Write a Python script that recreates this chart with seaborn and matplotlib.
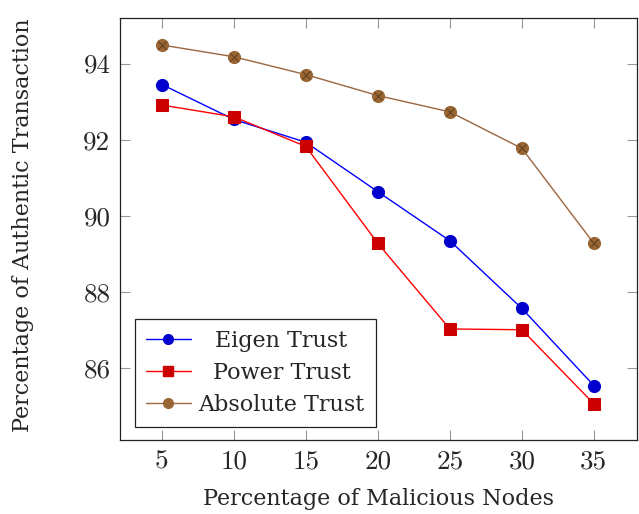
import matplotlib
matplotlib.use("Agg")
import matplotlib.pyplot as plt
import matplotlib.transforms as mtransforms
import seaborn as sns
import pandas as pd
from matplotlib.lines import Line2D

x_vals = [5, 10, 15, 20, 25, 30, 35]
eigen = [93.45, 92.53, 91.93, 90.63, 89.34, 87.56, 85.53]
power = [92.91, 92.60, 91.82, 89.27, 87.02, 87.00, 85.05]
absolute = [94.49, 94.18, 93.71, 93.16, 92.73, 91.77, 89.27]
series_names = ["Eigen Trust", "Power Trust", "Absolute Trust"]
y_ticks = [86, 88, 90, 92, 94]

df = pd.concat([
    pd.DataFrame({"x": x_vals, "y": eigen, "s": series_names[0]}),
    pd.DataFrame({"x": x_vals, "y": power, "s": series_names[1]}),
    pd.DataFrame({"x": x_vals, "y": absolute, "s": series_names[2]}),
])

sns.set_style("ticks")
plt.rcParams["font.family"] = ["DejaVu Serif"]

fig = plt.figure(figsize=(6.39, 5.14), dpi=100)
ax = fig.add_axes([0.188, 0.144, 0.809, 0.821])

line_colors = {"Eigen Trust": "#0000ff", "Power Trust": "#ff0000", "Absolute Trust": "#99663f"}
face_colors = {"Eigen Trust": "#0000cc", "Power Trust": "#cc0000", "Absolute Trust": "#996633"}
markers = {"Eigen Trust": "o", "Power Trust": "s", "Absolute Trust": "o"}
msize = {"Eigen Trust": 8.7, "Power Trust": 8.0, "Absolute Trust": 8.7}

for name in series_names:
    sub = df[df["s"] == name]
    sns.lineplot(data=sub, x="x", y="y", ax=ax, color=line_colors[name], lw=1.0,
                 marker=markers[name], markersize=msize[name],
                 markerfacecolor=face_colors[name], markeredgecolor=face_colors[name],
                 label=None, legend=False)
sub = df[df["s"] == "Absolute Trust"]
ax.plot(sub["x"], sub["y"], ls="none", marker="x", markersize=5.5, mec="#5c3d1f", mew=0.7)

ax.set_xlim(2.1, 38)
ax.set_ylim(84.1, 95.2)
ax.set_xticks(x_vals)
ax.set_yticks(y_ticks)
ax.set_xticklabels([str(v) for v in x_vals], fontfamily="cmr10", fontsize=19.5)
ax.set_yticklabels([str(v) for v in y_ticks], fontfamily="cmr10", fontsize=19.5)
ax.tick_params(direction="in", length=7, width=0.8, color="#999999", top=True, right=True, pad=7)
for sp in ax.spines.values():
    sp.set_color("#222222")
    sp.set_linewidth(0.9)
ax.set_xlabel("Percentage of Malicious Nodes", fontsize=16)
ax.set_ylabel("Percentage of Authentic Transaction", fontsize=16)
ax.xaxis.set_label_coords(0.5, -0.113)
ax.yaxis.set_label_coords(-0.166, 0.51)

handles = []
for name in series_names:
    handles.append(Line2D([], [], color=line_colors[name], lw=1.0, marker=markers[name],
                          markersize=7, markerfacecolor=face_colors[name],
                          markeredgecolor=face_colors[name]))
leg = ax.legend(handles, series_names, loc="lower left", bbox_to_anchor=(0.029, 0.031),
                fontsize=16, frameon=True, fancybox=False, edgecolor="#222222",
                handlelength=2.0, handletextpad=0.35, borderpad=0.5, labelspacing=0.45,
                borderaxespad=0)
leg.get_frame().set_linewidth(0.9)
leg.get_frame().set_alpha(1)

fig.canvas.draw()
renderer = fig.canvas.get_renderer()
texts = leg.get_texts()
widths = [t.get_window_extent(renderer).width for t in texts]
maxw = max(widths)
for t, w in zip(texts, widths):
    t.set_transform(t.get_transform() + mtransforms.Affine2D().translate((maxw - w) / 2, 0))

fig.savefig("out.png", dpi=100)
